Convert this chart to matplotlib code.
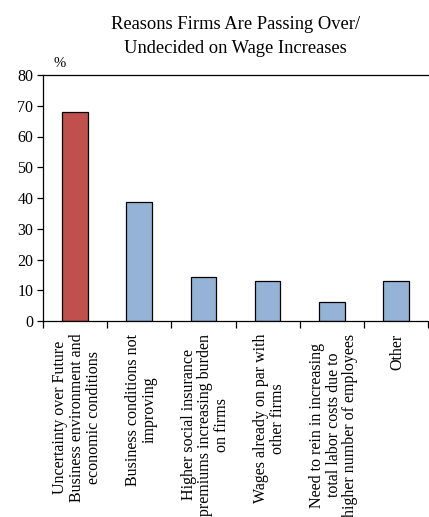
import matplotlib
matplotlib.use('Agg')
import matplotlib.pyplot as plt
import numpy as np

plt.rcParams['font.family'] = ['Liberation Serif', 'DejaVu Serif']

reasons = [
    'Uncertainty over Future\nBusiness environment and\neconomic conditions',
    'Business conditions not\nimproving',
    'Higher social insurance\npremiums increasing burden\non firms',
    'Wages already on par with\nother firms',
    'Need to rein in increasing\ntotal labor costs due to\nhigher number of employees',
    'Other',
]
shares = [68.0, 38.7, 14.4, 13.0, 6.2, 13.0]
highlight = [True, False, False, False, False, False]

fig = plt.figure(figsize=(4.29, 5.17), dpi=100)
ax = fig.add_axes([43 / 429, 1 - 321 / 517, 385 / 429, 246 / 517])

pos = np.arange(len(reasons)) + 0.5
colors = ['#C0504D' if h else '#95B3D7' for h in highlight]
ax.bar(pos, shares, width=0.4, color=colors, edgecolor='black', linewidth=0.9)

ax.set_xlim(0, len(reasons))
ax.set_ylim(0, 80)
ax.set_yticks(np.arange(0, 81, 10))
ax.tick_params(axis='y', direction='out', length=4, labelsize=11.5, width=0.9,
               pad=3)

# boundary ticks between categories, labels centred on the bars
ax.set_xticks(np.arange(0, len(reasons) + 1))
ax.set_xticklabels([])
ax.tick_params(axis='x', which='major', direction='out', length=5, width=0.9)
ax.set_xticks(pos + 0.03, minor=True)
ax.set_xticklabels(reasons, minor=True, rotation=90, fontsize=11.5,
                   ha='center', va='top', multialignment='center',
                   linespacing=1.05)
ax.tick_params(axis='x', which='minor', length=0, pad=9)

ax.spines['right'].set_visible(False)
for s in ['left', 'bottom', 'top']:
    ax.spines[s].set_linewidth(0.9)

ax.text(0.17, 81.5, '%', fontsize=10.5, ha='left', va='bottom')
ax.set_title('Reasons Firms Are Passing Over/\nUndecided on Wage Increases',
             fontsize=13.3, pad=16, linespacing=1.5)

fig.savefig('out.png', dpi=100)
